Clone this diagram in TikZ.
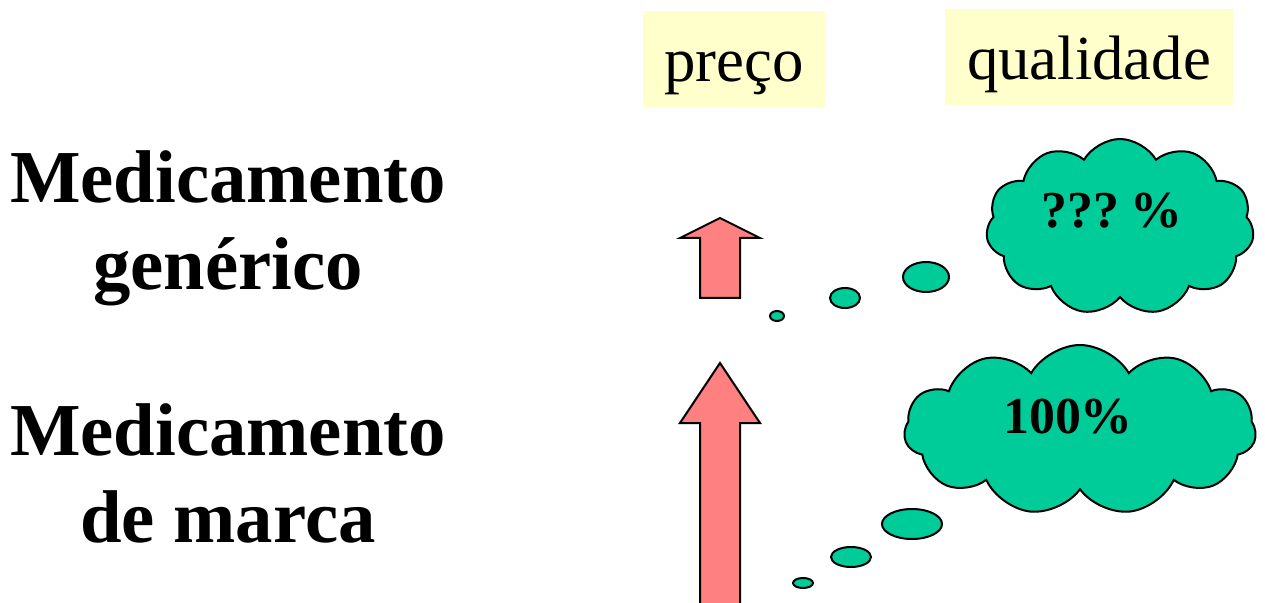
\documentclass[tikz,border=0pt]{standalone}
\usepackage{fontspec}
\setmainfont{Liberation Serif}
\usetikzlibrary{shapes.symbols,shapes.geometric}
\definecolor{lbl}{HTML}{FFFFCC}
\definecolor{arr}{HTML}{FF8080}
\definecolor{cld}{HTML}{00CC99}
\tikzset{
  bigtxt/.style={font=\fontsize{75}{80}\selectfont\bfseries, anchor=base, inner sep=0},
  hdr/.style={fill=lbl, font=\fontsize{63}{70}\selectfont, inner sep=0},
  arrowshape/.style={fill=arr, draw=black, line width=2bp, line join=miter},
  bubble/.style={fill=cld, draw=black, line width=2bp, ellipse, inner sep=0},
  cloudbox/.style={cloud, cloud puffs=11, cloud puff arc=120, aspect=1.6, fill=cld, draw=black, line width=2bp, inner sep=0},
  cloudtxt/.style={font=\fontsize{52}{60}\selectfont\bfseries, anchor=base, inner sep=0}
}
\begin{document}
\begin{tikzpicture}[x=1bp,y=-1bp]
\useasboundingbox (0,0) rectangle (1265,603);
% header labels
\node[hdr, minimum width=182bp, minimum height=96bp] (preco) at (734,59) {};
\node[anchor=base, inner sep=0, font=\fontsize{63}{70}\selectfont] (precot) at (734,82) {preço};
\node[hdr, minimum width=288bp, minimum height=96bp] (qual) at (1089,57) {};
\node[anchor=base, inner sep=0, font=\fontsize{63}{70}\selectfont] (qualt) at (1089,80) {qualidade};
% left labels
\node[bigtxt] (g1) at (228,203) {Medicamento};
\node[bigtxt] (g2) at (228,290) {genérico};
\node[bigtxt] (m1) at (228,455) {Medicamento};
\node[bigtxt] (m2) at (228,542) {de marca};
% arrows
\draw[arrowshape] (720,218) -- (760,238) -- (740,238) -- (740,298) -- (700,298) -- (700,238) -- (680,238) -- cycle;
\draw[arrowshape] (720,363) -- (760,423) -- (740,423) -- (740,610) -- (700,610) -- (700,423) -- (680,423) -- cycle;
% thought bubbles (top)
\node[bubble, minimum width=14bp, minimum height=10bp] (ta) at (777,316) {};
\node[bubble, minimum width=30bp, minimum height=20bp] (tb) at (845,298) {};
\node[bubble, minimum width=46bp, minimum height=30bp] (tc) at (926,277) {};
\node[cloudbox, minimum width=268bp, minimum height=176bp] (c1) at (1120,227) {};
\node[cloudtxt] (c1t) at (1112,228) {???\hspace{11bp}\%};
% thought bubbles (bottom)
\node[bubble, minimum width=20bp, minimum height=10bp] (ba) at (803,583) {};
\node[bubble, minimum width=40bp, minimum height=20bp] (bb) at (851,557) {};
\node[bubble, minimum width=60bp, minimum height=30bp] (bc) at (912,524) {};
\node[cloudbox, minimum width=352bp, minimum height=170bp] (c2) at (1080,430) {};
\node[cloudtxt] (c2t) at (1068,433) {100\%};
\end{tikzpicture}
\end{document}
